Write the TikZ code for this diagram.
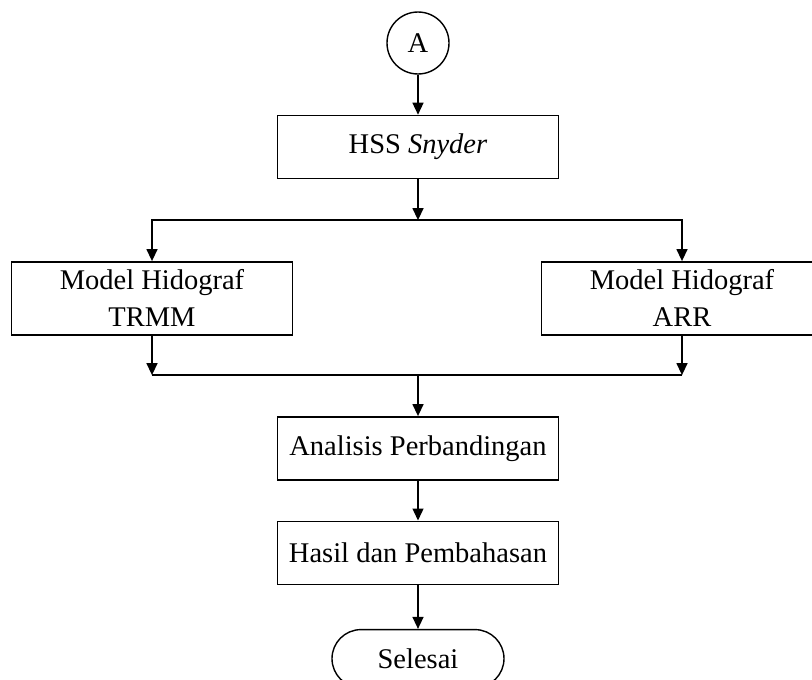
\documentclass[tikz,border=0pt]{standalone}
\usepackage{fontspec}
\setmainfont{Liberation Serif}
\usepackage{tikz}
\usetikzlibrary{arrows.meta, positioning}

\begin{document}
\begin{tikzpicture}[
    x=1pt, y=1pt,
    font=\fontsize{28.5}{37}\selectfont,
    line width=1.4pt,
    box/.style={draw, minimum width=281pt, minimum height=63pt, inner sep=0pt,
                align=center},
    tallbox/.style={box, minimum height=73pt},
    conn/.style={draw, circle, minimum size=62pt, inner sep=0pt},
    term/.style={draw, rounded corners=29pt, minimum width=172pt,
                minimum height=58pt, inner sep=0pt},
    arrow/.style={-{Triangle[length=12pt, width=11pt]}}
]
    \clip (0,0) rectangle (812,-680);

    \node[conn] (a) at (418,-43) {A};
    \node[box, below=40pt of a] (hss) {HSS \textit{Snyder}};
    \node[tallbox, below=82pt of hss, xshift=-266pt] (trmm) {Model Hidograf\\TRMM};
    \node[tallbox, below=82pt of hss, xshift=264pt] (arr) {Model Hidograf\\ARR};
    \node[box, below=237pt of hss] (analisis) {Analisis Perbandingan};
    \node[box, below=40pt of analisis] (hasil) {Hasil dan Pembahasan};
    \node[term, below=44pt of hasil] (selesai) {Selesai};

    \coordinate[below=41pt of hss] (split);
    \coordinate[above=41pt of analisis] (join);

    \draw[arrow] (a) -- (hss);
    \draw[arrow] (hss) -- (split);
    \draw[arrow] (split) -| (trmm);
    \draw[arrow] (split) -| (arr);
    \draw[arrow] (trmm) -- (trmm |- join);
    \draw[arrow] (arr) -- (arr |- join);
    \draw (trmm |- join) -- (arr |- join);
    \draw[arrow] (join) -- (analisis);
    \draw[arrow] (analisis) -- (hasil);
    \draw[arrow] (hasil) -- (selesai);
\end{tikzpicture}
\end{document}
